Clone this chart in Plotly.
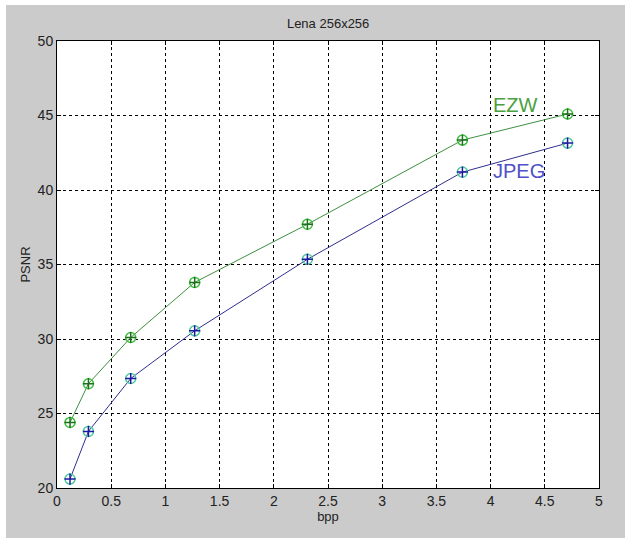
import plotly.graph_objects as go

bpp = [0.12, 0.29, 0.68, 1.27, 2.31, 3.74, 4.71]
ezw_psnr = [24.4, 27.0, 30.1, 33.8, 37.7, 43.35, 45.1]
jpeg_psnr = [20.6, 23.8, 27.35, 30.55, 35.35, 41.2, 43.15]
x_ticks = [0, 0.5, 1, 1.5, 2, 2.5, 3, 3.5, 4, 4.5, 5]
y_ticks = [20, 25, 30, 35, 40, 45, 50]

EZW_LINE = "#3f8f3f"
JPEG_LINE = "#2f2f8f"
FONT = "Liberation Sans"

fig = go.Figure()

for y, line_c, ring_c, plus_c in [
    (ezw_psnr, EZW_LINE, "#40c040", "#1f6f1f"),
    (jpeg_psnr, JPEG_LINE, "#50c8a0", "#1a1aa0"),
]:
    fig.add_trace(go.Scatter(
        x=bpp, y=y, mode="lines",
        line=dict(color=line_c, width=1),
        showlegend=False, hoverinfo="skip"))
    fig.add_trace(go.Scatter(
        x=bpp, y=y, mode="markers",
        marker=dict(symbol="circle-open", size=10, color=ring_c,
                    line=dict(color=ring_c, width=1.5)),
        showlegend=False, hoverinfo="skip"))
    fig.add_trace(go.Scatter(
        x=bpp, y=y, mode="markers",
        marker=dict(symbol="cross-thin-open", size=8, color=plus_c,
                    line=dict(color=plus_c, width=1.5)),
        showlegend=False, hoverinfo="skip"))

fig.add_annotation(x=4.0, y=45.7, text="EZW", showarrow=False,
                   xanchor="left", yanchor="middle",
                   font=dict(family=FONT, size=20, color="#4aa040"))
fig.add_annotation(x=4.0, y=41.3, text="JPEG", showarrow=False,
                   xanchor="left", yanchor="middle",
                   font=dict(family=FONT, size=20, color="#5050c8"))

axis_common = dict(
    showline=True, linecolor="black", linewidth=1, mirror="ticks",
    ticks="inside", ticklen=4, tickcolor="black",
    showgrid=True, gridcolor="black", gridwidth=1, griddash="3px,3px",
    zeroline=False,
    tickfont=dict(family=FONT, size=14, color="#222222"),
)

fig.update_xaxes(range=[0, 5], tickvals=x_ticks,
                 ticktext=[f"{v:g}" for v in x_ticks],
                 title=dict(text="bpp", font=dict(family=FONT, size=13, color="#222222"),
                            standoff=3),
                 **axis_common)
fig.update_yaxes(range=[20, 50], tickvals=y_ticks,
                 ticktext=[str(v) for v in y_ticks],
                 title=dict(text="PSNR", font=dict(family=FONT, size=13, color="#222222"),
                            standoff=4),
                 **axis_common)

# thin white strips at the top and left edges of the figure
fig.add_shape(type="rect", xref="paper", yref="paper",
              x0=-57/542, x1=1 + 26/542, y0=1 + 36/447, y1=1 + 41/447,
              fillcolor="white", line=dict(width=0), layer="below")
fig.add_shape(type="rect", xref="paper", yref="paper",
              x0=-57/542, x1=-51/542, y0=-50/447, y1=1 + 41/447,
              fillcolor="white", line=dict(width=0), layer="below")

fig.update_layout(
    width=625, height=538,
    margin=dict(l=57, r=26, t=41, b=50, pad=0),
    paper_bgcolor="#cbcbcb",
    plot_bgcolor="white",
    title=dict(text="Lena 256x256", x=0.525, xanchor="center",
               y=1 - 23/538, yanchor="middle",
               font=dict(family=FONT, size=13, color="#222222")),
)

fig.write_html("out.html", config={"displayModeBar": False},
               post_script="document.body.style.margin='0';")
